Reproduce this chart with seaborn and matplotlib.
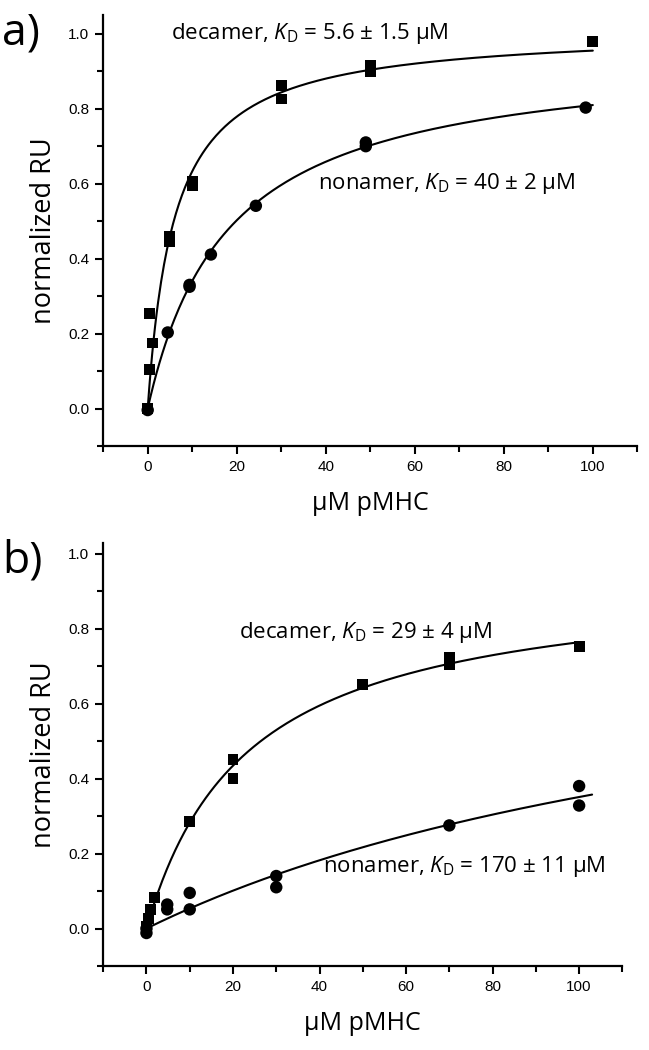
import numpy as np
import pandas as pd
import matplotlib
matplotlib.use("Agg")
import matplotlib.pyplot as plt
import seaborn as sns

# panel a) readings
a_dec_x = [0, 0.5, 0.5, 1, 5, 5, 10, 10, 30, 30, 50, 50, 100]
a_dec_y = [0.0, 0.253, 0.103, 0.175, 0.458, 0.446, 0.605, 0.595, 0.861, 0.826, 0.915, 0.900, 0.979]
a_non_x = [0, 4.5, 9.4, 9.4, 14.2, 24.3, 49, 49, 98.4]
a_non_y = [-0.004, 0.203, 0.330, 0.325, 0.411, 0.541, 0.710, 0.700, 0.803]

# panel b) readings
b_dec_x = [0, 0.4, 0.9, 1.9, 10, 20, 20, 50, 70, 70, 100]
b_dec_y = [0.006, 0.026, 0.051, 0.083, 0.285, 0.450, 0.400, 0.650, 0.722, 0.704, 0.752]
b_non_x = [0, 0, 4.8, 4.8, 10, 10, 30, 30, 70, 100, 100]
b_non_y = [-0.012, 0.0, 0.064, 0.051, 0.095, 0.051, 0.140, 0.110, 0.275, 0.380, 0.328]

labels_a = ["decamer, $\\mathit{K}_\\mathrm{D}$ = 5.6 ± 1.5 µM", "nonamer, $\\mathit{K}_\\mathrm{D}$ = 40 ± 2 µM"]
labels_b = ["decamer, $\\mathit{K}_\\mathrm{D}$ = 29 ± 4 µM", "nonamer, $\\mathit{K}_\\mathrm{D}$ = 170 ± 11 µM"]


def fit_curve(x, y, xmax):
    # one-site binding fit, y = Bmax*x/(K+x)
    x = np.asarray(x, float)
    y = np.asarray(y, float)
    best = None
    for k in np.linspace(0.5, 400, 8000):
        f = x / (k + x)
        b = (y @ f) / (f @ f)
        err = ((y - b * f) ** 2).sum()
        if best is None or err < best[0]:
            best = (err, k, b)
    xs = np.linspace(0, xmax, 300)
    return pd.DataFrame({"x": xs, "y": best[2] * xs / (best[1] + xs)})


sns.set_style("ticks")
plt.rcParams["font.family"] = ["Liberation Sans", "DejaVu Sans"]
plt.rcParams["mathtext.fontset"] = "custom"
plt.rcParams["mathtext.it"] = "Open Sans:italic"
plt.rcParams["mathtext.rm"] = "Open Sans"
for key in ["text.color", "axes.labelcolor", "xtick.color", "ytick.color", "axes.edgecolor"]:
    plt.rcParams[key] = "black"

fig = plt.figure(figsize=(6.49, 10.5), dpi=100)
ax_a = fig.add_axes([0.159, 0.5752, 0.823, 0.4105])
ax_b = fig.add_axes([0.159, 0.080, 0.800, 0.4024])

panels = [
    (ax_a, a_dec_x, a_dec_y, a_non_x, a_non_y, 100, 100, 1.05, "a)"),
    (ax_b, b_dec_x, b_dec_y, b_non_x, b_non_y, 100, 103, 1.027, "b)"),
]

for ax, dx, dy, nx, ny, dmax, nmax, ytop, tag in panels:
    sns.lineplot(data=fit_curve(dx, dy, dmax), x="x", y="y", ax=ax, color="black", lw=1.5)
    sns.lineplot(data=fit_curve(nx, ny, nmax), x="x", y="y", ax=ax, color="black", lw=1.5)
    sns.scatterplot(x=dx, y=dy, ax=ax, marker="s", s=62, color="black", edgecolor="none", zorder=3)
    sns.scatterplot(x=nx, y=ny, ax=ax, marker="o", s=80, color="black", edgecolor="none", zorder=3)
    ax.set_xlim(-10, 110)
    ax.set_ylim(-0.1, ytop)
    ax.set_xticks(np.arange(0, 101, 20))
    ax.set_xticks(np.arange(-10, 111, 10), minor=True)
    ax.set_yticks(np.arange(0, 1.01, 0.2))
    ax.set_yticks(np.arange(-0.1, ytop, 0.1), minor=True)
    ax.set_yticklabels([f"{v:.1f}" for v in np.arange(0, 1.01, 0.2)])
    ax.tick_params(which="major", direction="out", length=6, width=1.5, labelsize=11, pad=4)
    ax.tick_params(which="minor", direction="out", length=4, width=1.5)
    for s in ["top", "right"]:
        ax.spines[s].set_visible(False)
    for s in ["left", "bottom"]:
        ax.spines[s].set_linewidth(1.6)
    ax.set_xlabel("µM pMHC", fontsize=18, family="Open Sans", labelpad=12)
    ax.set_ylabel("normalized RU", fontsize=19.5, family="Open Sans", labelpad=7)
    pos = ax.get_position()
    fig.text(0.003, pos.y1 - 0.017, tag, fontsize=32, family="Open Sans", va="center", ha="left")

ax_a.text(67.5, 1.0, labels_a[0], fontsize=16, family="Open Sans", va="center", ha="right")
ax_a.text(96, 0.60, labels_a[1], fontsize=16, family="Open Sans", va="center", ha="right")
ax_b.text(80, 0.79, labels_b[0], fontsize=16, family="Open Sans", va="center", ha="right")
ax_b.text(106, 0.165, labels_b[1], fontsize=16, family="Open Sans", va="center", ha="right")

fig.savefig("out.png", dpi=100)
